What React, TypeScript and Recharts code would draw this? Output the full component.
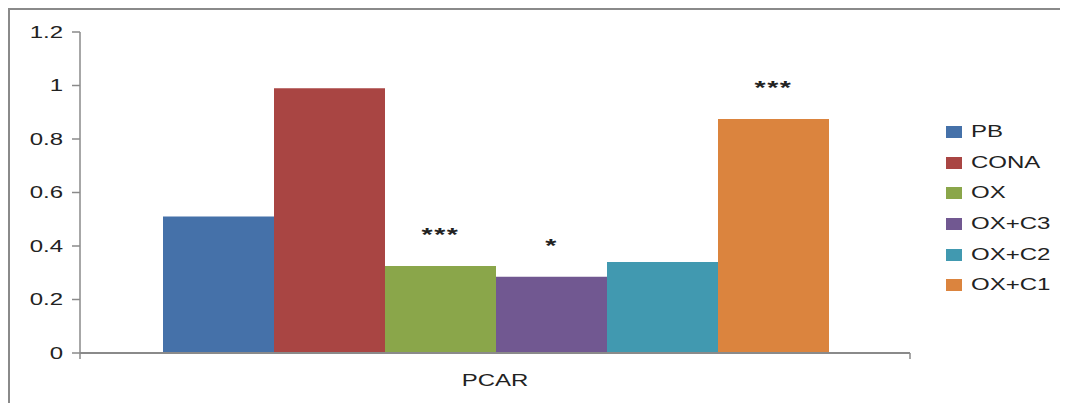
import React from 'react'
import { BarChart, Bar, XAxis, YAxis, Legend, LabelList } from 'recharts'

const category = 'PCAR'
const seriesNames = ['PB', 'CONA', 'OX', 'OX+C3', 'OX+C2', 'OX+C1']
const seriesValues = [0.51, 0.99, 0.325, 0.285, 0.34, 0.875]
const significance = ['', '', '***', '*', '', '***']
const seriesColors = ['#4571a9', '#a94543', '#8aa64a', '#715891', '#4199b0', '#db843e']
const yTicks = [0, 0.2, 0.4, 0.6, 0.8, 1, 1.2]

const data = [
    seriesNames.reduce((row: any, name, i) => {
        row[name] = seriesValues[i]
        return row
    }, { name: category }),
]

const FONT = '"Liberation Sans", Arial, sans-serif'
const AXIS = '#8a8a8a'
const STRETCH = 1.5

function YTick({ x, y, payload }: any) {
    return (
        <text transform={`translate(${x},${y}) scale(${STRETCH},1)`} textAnchor="end" dy="0.36em"
            fontSize={16} fontFamily={FONT} fill="#222">
            {String(payload.value)}
        </text>
    )
}

function XTick({ x, y, payload }: any) {
    const half = payload.offset || 0
    return (
        <g>
            <line x1={x - half} x2={x - half} y1={y} y2={y + 6} stroke={AXIS} strokeWidth={1.5} />
            <line x1={x + half} x2={x + half} y1={y} y2={y + 6} stroke={AXIS} strokeWidth={1.5} />
            <text transform={`translate(${x},${y + 33}) scale(${STRETCH},1)`} textAnchor="middle"
                fontSize={16} fontFamily={FONT} fill="#222">
                {payload.value}
            </text>
        </g>
    )
}

function starLabel(i: number) {
    return ({ x, y, width }: any) => {
        if (!significance[i]) return null
        return (
            <text transform={`translate(${x + width / 2},${y - 25}) scale(${STRETCH},1)`} textAnchor="middle"
                fontSize={19} fontWeight="bold" letterSpacing={1} fontFamily={FONT} fill="#222">
                {significance[i]}
            </text>
        )
    }
}

function LegendBox() {
    return (
        <div style={{ display: 'flex', flexDirection: 'column', fontFamily: FONT }}>
            {seriesNames.map((name, i) => (
                <div key={name} style={{ height: 30.6, display: 'flex', alignItems: 'center' }}>
                    <span style={{ width: 16, height: 12, background: seriesColors[i], marginRight: 9, flex: 'none' }} />
                    <span style={{ fontSize: 16, color: '#222', display: 'inline-block', transform: `scaleX(${STRETCH})`, transformOrigin: 'left center', whiteSpace: 'nowrap' }}>
                        {name}
                    </span>
                </div>
            ))}
        </div>
    )
}

export default function App() {
    return (
        <div style={{ width: 1060, height: 395, borderTop: `2px solid ${AXIS}`, borderLeft: `2px solid ${AXIS}`, boxSizing: 'border-box', background: '#fff' }}>
            <BarChart width={1058} height={393} data={data} barCategoryGap="10%" barGap={0}
                margin={{ top: 22, right: 38, bottom: 0, left: 0 }}>
                <YAxis domain={[0, 1.2]} ticks={yTicks} width={70} tick={<YTick />} tickSize={8} tickMargin={9}
                    axisLine={{ stroke: AXIS, strokeWidth: 1.5 }} tickLine={{ stroke: AXIS, strokeWidth: 1.5 }} interval={0} />
                <XAxis dataKey="name" height={50} tick={<XTick />} tickLine={false} tickSize={0} tickMargin={0}
                    axisLine={{ stroke: AXIS, strokeWidth: 2 }} />
                <Legend layout="vertical" align="right" verticalAlign="middle" width={110} content={<LegendBox />}
                    wrapperStyle={{ left: 936, top: 107, right: 'auto', width: 120 }} />
                {seriesNames.map((name, i) => (
                    <Bar key={name} dataKey={name} fill={seriesColors[i]} isAnimationActive={false}>
                        <LabelList dataKey={name} content={starLabel(i)} />
                    </Bar>
                ))}
            </BarChart>
        </div>
    )
}
